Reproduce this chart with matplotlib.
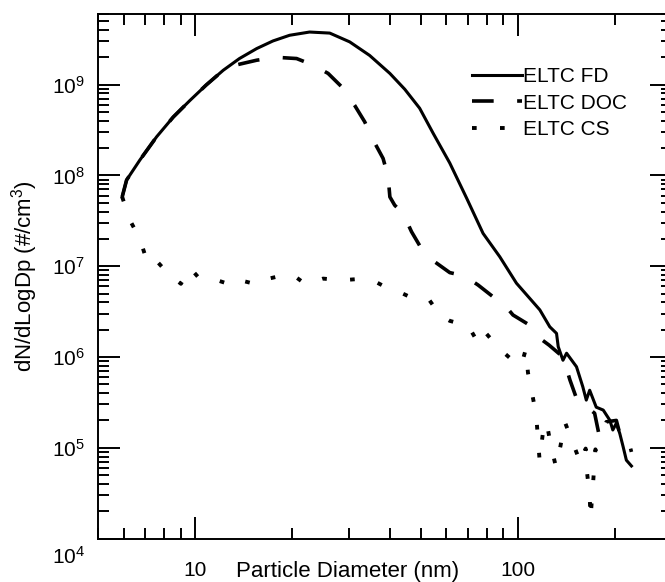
import numpy as np
import matplotlib
matplotlib.use('Agg')
import matplotlib.pyplot as plt
import matplotlib.transforms as mtransforms
from matplotlib.ticker import LogLocator, NullFormatter, FixedLocator

plt.rcParams['font.family'] = ['Liberation Sans', 'DejaVu Sans']
plt.rcParams['mathtext.fontset'] = 'custom'
plt.rcParams['mathtext.rm'] = 'Liberation Sans'
plt.rcParams['mathtext.it'] = 'Liberation Sans:italic'
plt.rcParams['mathtext.bf'] = 'Liberation Sans:bold'

# ELTC FD (solid)
fd_x = [5.93, 6.12, 6.73, 7.58, 8.54, 9.62, 10.8, 12.2, 13.7, 15.5, 17.4, 19.6, 22.6, 26.1,
        30.1, 34.7, 40.1, 44.6, 49.6, 54.6, 61.5, 69.4, 78, 87.9, 99, 109, 117, 125.6, 131.8,
        133.4, 138, 141.6, 152, 159, 163, 167, 175, 184, 193, 197, 202, 207, 212, 217, 225]
fd_y = [5.8e7, 8.9e7, 1.48e8, 2.66e8, 4.4e8, 6.7e8, 9.9e8, 1.44e9, 1.94e9, 2.5e9, 3.03e9,
        3.5e9, 3.8e9, 3.7e9, 2.96e9, 2.1e9, 1.33e9, 8.9e8, 5.5e8, 2.92e8, 1.37e8, 5.6e7,
        2.3e7, 1.27e7, 6.5e6, 4.4e6, 3.3e6, 2.15e6, 1.82e6, 1.3e6, 9.2e5, 1.1e6, 7.8e5, 4.7e5,
        3.35e5, 4.3e5, 2.8e5, 2.6e5, 2.0e5, 1.57e5, 1.86e5, 1.44e5, 1.03e5, 7.3e4, 6.3e4]

# ELTC DOC (dashed)
doc_x = [5.93, 6.12, 6.73, 7.58, 8.54, 9.62, 10.8, 12.2, 13.3, 15.5, 17.9, 20.6, 23.2, 25.8,
         28.4, 31.2, 33.5, 35.6, 38.2, 39.6, 40.1, 41.5, 44.1, 46.8, 50.2, 55.2, 61.5, 68.4, 75.3,
         83.8, 89, 96.6, 107.5, 115.3, 125, 138, 145, 152, 173, 179.5, 188, 202, 207, 219, 225]
doc_y = [5.8e7, 8.9e7, 1.48e8, 2.66e8, 4.4e8, 6.7e8, 9.9e8, 1.44e9, 1.64e9, 1.86e9, 2.0e9,
         1.94e9, 1.64e9, 1.33e9, 9.5e8, 5.9e8, 3.9e8, 2.45e8, 1.54e8, 9.7e7, 5.8e7, 4.7e7, 3.8e7,
         2.4e7, 1.57e7, 1.12e7, 8.5e6, 7.8e6, 6.2e6, 4.6e6, 4.1e6, 2.9e6, 2.3e6, 1.67e6,
         1.35e6, 1.0e6, 5.6e5, 3.5e5, 2.4e5, 1.27e5, 1.93e5, 2.0e5, 1.44e5, 1.32e5, 9.0e4]

# ELTC CS (dotted)
cs_x = [5.93, 6.27, 6.73, 7.06, 7.35, 8.18, 9.02, 9.62, 10.3, 11.4, 12.3, 13.0, 14.0, 15.8,
        16.9, 18.3, 20.0, 22.0, 24.9, 28.4, 31.6, 36.3, 39.2, 41.5, 46.8, 53.0, 57.3, 61.5,
        70.2, 75.3, 78.9, 87.5, 98.3, 102.5, 105.8, 107.5, 110.8, 114, 115.4, 116.8, 119.7,
        122.7, 126.5, 131.2, 135.6, 139.8, 156.7, 162.3, 163.8, 167, 168, 172, 174, 179.5]
cs_y = [5.8e7, 3.2e7, 2.0e7, 1.17e7, 1.29e7, 8.5e6, 6.4e6, 9.6e6, 7.3e6, 7.2e6, 6.6e6, 6.0e6,
        6.9e6, 6.2e6, 7.3e6, 7.8e6, 8.1e6, 6.3e6, 7.3e6, 7.0e6, 7.2e6, 6.7e6, 5.8e6, 5.5e6,
        4.5e6, 4.3e6, 2.9e6, 2.5e6, 2.2e6, 1.43e6, 1.9e6, 1.24e6, 8.6e5, 8.1e5, 1.21e6,
        6.7e5, 3.9e5, 2.3e5, 1.27e5, 7.3e4, 1.5e5, 1.93e5, 1.07e5, 6.2e4, 1.05e5, 1.93e5,
        6.7e4, 9.8e4, 5.4e4, 3.0e4, 1.64e4, 5.3e4, 9.6e4, 6.4e4]

yticks = [1e4, 1e5, 1e6, 1e7, 1e8, 1e9]
ytick_labels = ['$10^{4}$', '$10^{5}$', '$10^{6}$', '$10^{7}$', '$10^{8}$', '$10^{9}$']
xticks = [10, 100]
xtick_labels = ['10', '100']

fig = plt.figure(figsize=(6.65, 5.82), dpi=100)
ax = fig.add_axes([0.1478, 0.0747, 0.8623, 0.9012])

lw = 2.2
ax.plot(fd_x, fd_y, color='black', lw=lw, ls='-', label='ELTC FD')
ax.plot(doc_x, doc_y, color='black', lw=lw + 0.4, ls=(0, (6, 6.5)), label='ELTC DOC')
ax.plot(cs_x, cs_y, color='black', lw=lw + 0.6, ls=(0, (1.2, 6)), label='ELTC CS')

ax.set_xscale('log')
ax.set_yscale('log')
ax.set_xlim(5, 300)
ax.set_ylim(1e4, 6e9)

ax.set_xticks(xticks)
ax.set_xticklabels(xtick_labels)
ax.xaxis.set_minor_locator(LogLocator(base=10, subs=np.arange(2, 10)))
ax.xaxis.set_minor_formatter(NullFormatter())
ax.yaxis.set_major_locator(FixedLocator(yticks))
ax.set_yticklabels(ytick_labels)
ax.yaxis.set_minor_locator(LogLocator(base=10, subs=np.arange(2, 10), numticks=20))
ax.yaxis.set_minor_formatter(NullFormatter())

ax.tick_params(which='both', direction='in', top=True, right=True, labelsize=15, width=1.4)
ax.tick_params(which='major', length=15.8)
ax.tick_params(which='minor', length=8)
ax.tick_params(axis='x', which='major', pad=16.5)
ax.tick_params(axis='y', which='major', pad=9.4)
for s in ax.spines.values():
    s.set_linewidth(1.4)

# bottom label sits a bit below the axis corner, as in the original
t0 = ax.yaxis.get_major_ticks()[0]
t0.label1.set_transform(t0.label1.get_transform() +
                        mtransforms.ScaledTranslation(0, -12 / 72, fig.dpi_scale_trans))

ax.set_xlabel('Particle Diameter (nm)', fontsize=16)
ax.xaxis.set_label_coords(0.434, -0.043)
ax.set_ylabel('dN/dLogDp (#/cm$^3$)', fontsize=16)
ax.yaxis.set_label_coords(-0.102, 0.5)

ax.legend(loc='upper left', bbox_to_anchor=(0.652, 0.899), frameon=False, fontsize=15,
          handlelength=2.4, handletextpad=0.05, labelspacing=0.37, borderpad=0, borderaxespad=0)

fig.savefig('out.png', dpi=100)
